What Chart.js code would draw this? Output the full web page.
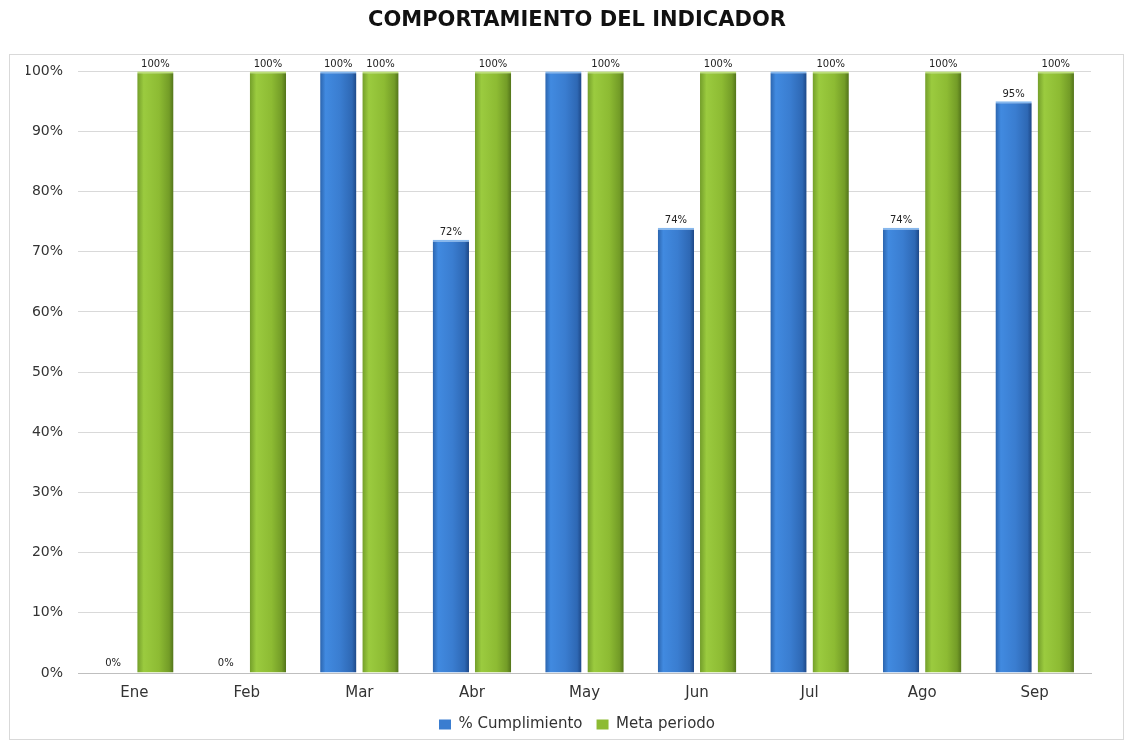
<!DOCTYPE html>
<html>
<head>
<meta charset="utf-8">
<title>Comportamiento del indicador</title>
<script src="https://cdn.jsdelivr.net/npm/chart.js@4.4.1/dist/chart.umd.min.js"></script>
<style>
    html, body { margin: 0; padding: 0; background: #fff; }
    #wrap { width: 1128px; height: 742px; }
</style>
</head>
<body>
<div id="wrap"><canvas id="indicador"></canvas></div>
<script>
const meses = ['Ene', 'Feb', 'Mar', 'Abr', 'May', 'Jun', 'Jul', 'Ago', 'Sep'];
const cumplimiento = [0, 0, 100, 72, 100, 74, 100, 74, 95];
const metaPeriodo = [100, 100, 100, 100, 100, 100, 100, 100, 100];
// May y Jul no llevan etiqueta en el original
const etiquetasCumplimiento = ['0%', '0%', '100%', '72%', null, '74%', null, '74%', '95%'];
const etiquetasMeta = ['100%', '100%', '100%', '100%', '100%', '100%', '100%', '100%', '100%'];
const ticksY = [0, 10, 20, 30, 40, 50, 60, 70, 80, 90, 100];

const catPct = 0.75;
const barPct = 0.86;

const stopsAzul = [[0, '#2b64ad'], [0.15, '#418ae0'], [0.55, '#3a7dd0'], [0.88, '#2e68b4'], [1, '#1d4786']];
const stopsVerde = [[0, '#739e2a'], [0.18, '#9bcb3f'], [0.6, '#8dbb33'], [0.88, '#739c27'], [1, '#52731a']];

function relleno(stops, solido) {
    return (ctx) => {
        const chart = ctx.chart;
        const x = chart.scales.x;
        if (ctx.type !== 'data' || !x || !x.width) return solido;
        const centro = x.getPixelForValue(ctx.dataIndex);
        const slot = (x.width / meses.length) * catPct / 2;
        const ancho = slot * barPct;
        const c = centro + (ctx.datasetIndex === 0 ? -slot / 2 : slot / 2);
        const g = chart.ctx.createLinearGradient(c - ancho / 2, 0, c + ancho / 2, 0);
        stops.forEach(s => g.addColorStop(s[0], s[1]));
        return g;
    };
}

// borde superior claro, imitando la tapa del cilindro
const bordeTapa = (ctx) => (ctx.raw > 0 ? { top: 2, left: 0, right: 0, bottom: 0 } : 0);

const etiquetasPlugin = {
    id: 'etiquetas',
    afterDatasetsDraw(chart) {
        const ctx = chart.ctx;
        const textos = [etiquetasCumplimiento, etiquetasMeta];
        ctx.save();
        ctx.font = '10px "DejaVu Sans"';
        ctx.fillStyle = '#222';
        ctx.textAlign = 'center';
        ctx.textBaseline = 'bottom';
        chart.data.datasets.forEach((ds, i) => {
            chart.getDatasetMeta(i).data.forEach((el, j) => {
                const t = textos[i][j];
                if (!t) return;
                const dy = ds.data[j] === 0 ? 5 : 2;
                ctx.fillText(t, el.x, el.y - dy);
            });
        });
        ctx.restore();
    }
};

const marcoPlugin = {
    id: 'marco',
    beforeDraw(chart) {
        const ctx = chart.ctx;
        ctx.save();
        ctx.strokeStyle = '#d9d9d9';
        ctx.lineWidth = 1;
        ctx.strokeRect(9.5, 54.5, 1114, 685);
        ctx.restore();
    }
};

const coloresLeyenda = ['#3a7dd0', '#8dbb33'];

new Chart(document.getElementById('indicador').getContext('2d'), {
    type: 'bar',
    data: {
        labels: meses,
        datasets: [{
            label: '% Cumplimiento',
            data: cumplimiento,
            backgroundColor: relleno(stopsAzul, '#3a7dd0'),
            borderColor: '#86b8ee',
            borderWidth: bordeTapa,
            borderSkipped: false,
            categoryPercentage: catPct,
            barPercentage: barPct
        }, {
            label: 'Meta periodo',
            data: metaPeriodo,
            backgroundColor: relleno(stopsVerde, '#8dbb33'),
            borderColor: '#bde07a',
            borderWidth: bordeTapa,
            borderSkipped: false,
            categoryPercentage: catPct,
            barPercentage: barPct
        }]
    },
    options: {
        responsive: true,
        maintainAspectRatio: false,
        animation: false,
        layout: { padding: { left: 26, right: 0, top: 0, bottom: 0 } },
        scales: {
            x: {
                afterFit: (s) => { s.height = 30; },
                grid: { display: false, drawTicks: false },
                border: { color: '#bfbfbf' },
                ticks: { color: '#333', padding: 11, font: { family: 'DejaVu Sans', size: 15 } }
            },
            y: {
                min: 0,
                max: 100,
                afterFit: (s) => { s.width = 52; },
                afterBuildTicks: (s) => { s.ticks = ticksY.map(v => ({ value: v })); },
                grid: { color: '#d9d9d9', drawTicks: false },
                border: { display: false },
                ticks: {
                    color: '#333',
                    padding: 15,
                    font: { family: 'DejaVu Sans', size: 14 },
                    callback: (v) => v + '%'
                }
            },
            derecha: {
                position: 'right',
                afterFit: (s) => { s.width = 37; },
                grid: { display: false, drawTicks: false },
                border: { display: false },
                ticks: { display: false }
            }
        },
        plugins: {
            title: {
                display: true,
                text: 'COMPORTAMIENTO DEL INDICADOR',
                color: '#111',
                font: { family: 'DejaVu Sans', size: 21, weight: 'bold' },
                padding: { top: 8, bottom: 38 }
            },
            legend: {
                position: 'bottom',
                labels: {
                    boxWidth: 12,
                    boxHeight: 10,
                    padding: 14,
                    color: '#333',
                    font: { family: 'DejaVu Sans', size: 15 },
                    generateLabels: (chart) =>
                        Chart.defaults.plugins.legend.labels.generateLabels(chart).map((it, i) =>
                            Object.assign(it, { fillStyle: coloresLeyenda[i], strokeStyle: coloresLeyenda[i], lineWidth: 0 }))
                }
            },
            tooltip: { enabled: false }
        }
    },
    plugins: [etiquetasPlugin, marcoPlugin]
});
</script>
</body>
</html>
